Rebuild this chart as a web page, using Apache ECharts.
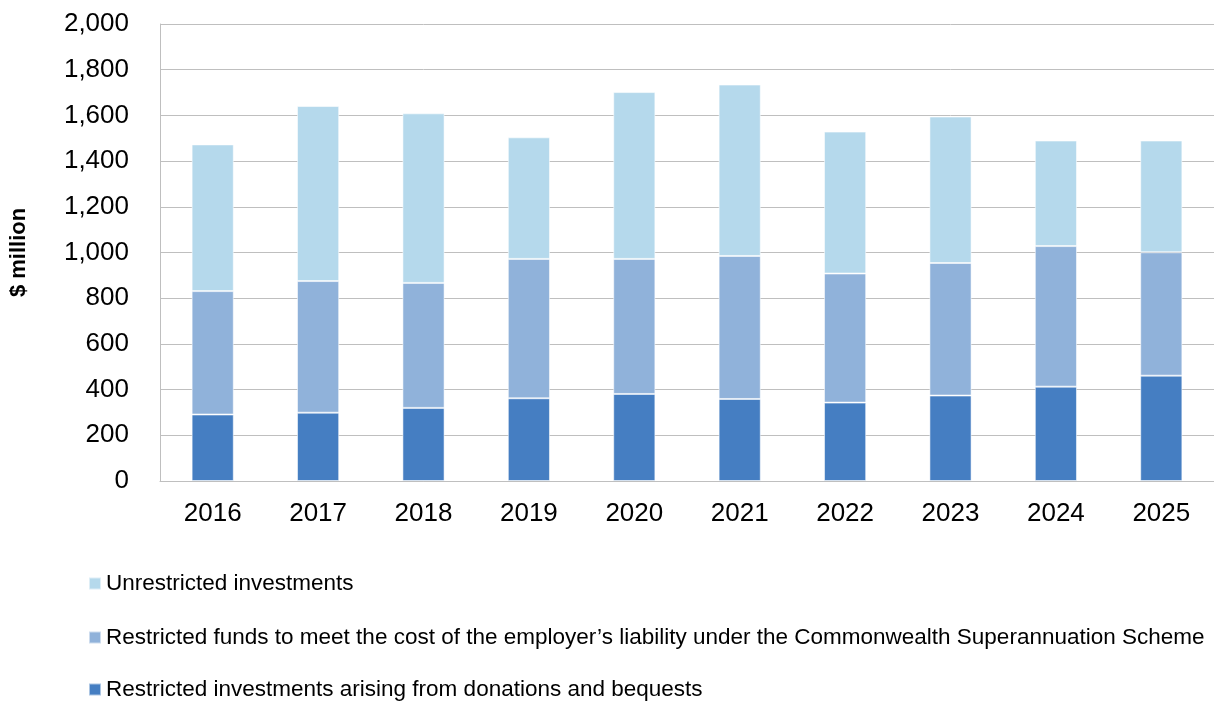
<!DOCTYPE html>
<html lang="en">
<head>
    <meta charset="UTF-8">
    <title>Investments</title>
    <script src="https://cdn.jsdelivr.net/npm/echarts@6/dist/echarts.min.js"></script>
    <style>
        html, body { margin: 0; padding: 0; background: #fff; }
        #main { width: 1214px; height: 701px; }
    </style>
</head>
<body>
    <div id="main"></div>
    <script>
        var years = ['2016', '2017', '2018', '2019', '2020', '2021', '2022', '2023', '2024', '2025'];
        var donations = [291, 299, 320, 362, 381, 359, 343, 374, 413, 461];
        var superFunds = [540, 576, 547, 610, 591, 626, 565, 580, 615, 540];
        var unrestricted = [642, 766, 742, 532, 730, 750, 621, 641, 462, 489];

        var nameDon = 'Restricted investments arising from donations and bequests';
        var nameSuper = 'Restricted funds to meet the cost of the employer\u2019s liability under the Commonwealth Superannuation Scheme';
        var nameUnr = 'Unrestricted investments';

        var font = 'Liberation Sans, Arial, sans-serif';
        var chart = echarts.init(document.getElementById('main'));

        function barSeries(name, data, color) {
            return {
                name: name,
                type: 'bar',
                stack: 'total',
                barWidth: '40%',
                data: data,
                itemStyle: { color: color, borderColor: 'rgba(255,255,255,0.55)', borderWidth: 1 }
            };
        }

        // one legend per row so the three rows can sit where the original has them
        function legendRow(name, top) {
            return {
                left: 83,
                top: top,
                itemWidth: 12,
                itemHeight: 12,
                icon: 'rect',
                data: [name],
                textStyle: { fontSize: 22.5, color: '#000', fontFamily: font }
            };
        }

        chart.setOption({
            animation: false,
            textStyle: { fontFamily: font },
            grid: { left: 159, right: -2, top: 24, bottom: 220 },
            legend: [
                legendRow(nameUnr, 567),
                legendRow(nameSuper, 621),
                legendRow(nameDon, 673)
            ],
            xAxis: {
                type: 'category',
                data: years,
                axisLine: { lineStyle: { color: '#bfbfbf', width: 1 } },
                axisTick: { show: false },
                axisLabel: { fontSize: 26, color: '#000', margin: 20, fontFamily: font }
            },
            yAxis: {
                type: 'value',
                min: 0,
                max: 2000,
                interval: 200,
                name: '$ million',
                nameLocation: 'middle',
                nameGap: 130,
                nameTextStyle: { fontSize: 22, fontWeight: 'bold', color: '#000', fontFamily: font },
                axisLine: { show: true, lineStyle: { color: '#bfbfbf', width: 1 } },
                axisTick: { show: false },
                splitLine: { lineStyle: { color: '#bfbfbf', width: 1 } },
                axisLabel: {
                    fontSize: 26,
                    color: '#000',
                    margin: 31,
                    fontFamily: font,
                    formatter: function (v) { return v.toLocaleString('en-US'); }
                }
            },
            series: [
                barSeries(nameDon, donations, '#457ec2'),
                barSeries(nameSuper, superFunds, '#90b2da'),
                barSeries(nameUnr, unrestricted, '#b5d9ec')
            ]
        });
    </script>
</body>
</html>
